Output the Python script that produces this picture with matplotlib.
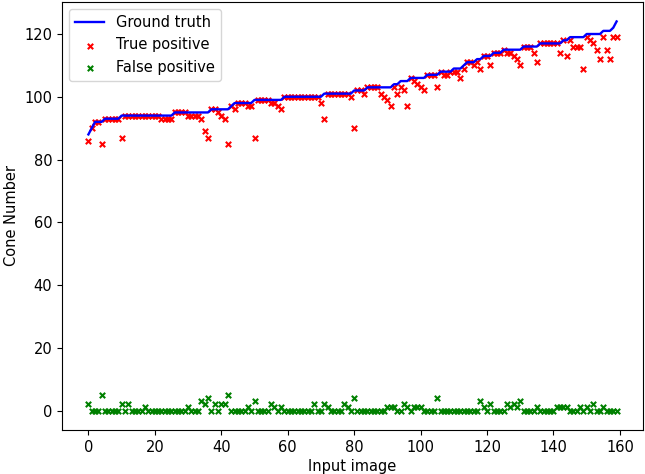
import numpy as np
import matplotlib
matplotlib.use("Agg")
import matplotlib.pyplot as plt

plt.rcParams.update({'font.size': 10.5})

# ground truth cone count per input image (sorted)
ground_truth = [88, 90, 92, 92, 92, 93, 93, 93, 93, 93,
                94, 94, 94, 94, 94, 94, 94, 94, 94, 94,
                94, 94, 94, 94, 94, 94, 95, 95, 95, 95,
                95, 95, 95, 95, 95, 95, 95, 96, 96, 96,
                96, 96, 96, 97, 98, 98, 98, 98, 98, 98,
                99, 99, 99, 99, 99, 99, 99, 99, 99, 100,
                100, 100, 100, 100, 100, 100, 100, 100, 100, 100,
                100, 101, 101, 101, 101, 101, 101, 101, 101, 101,
                102, 102, 102, 102, 103, 103, 103, 103, 103, 103,
                103, 103, 104, 104, 105, 105, 105, 106, 106, 106,
                106, 106, 107, 107, 107, 107, 108, 108, 108, 108,
                109, 109, 109, 110, 111, 111, 111, 112, 112, 113,
                113, 113, 114, 114, 114, 115, 115, 115, 115, 115,
                115, 116, 116, 116, 116, 116, 117, 117, 117, 117,
                117, 117, 117, 118, 118, 119, 119, 119, 119, 119,
                120, 120, 120, 120, 120, 121, 121, 121, 122, 124]

# detected cones that are correct
true_positive = [86, 90, 92, 92, 85, 93, 93, 93, 93, 93,
                 87, 94, 94, 94, 94, 94, 94, 94, 94, 94,
                 94, 94, 93, 93, 93, 93, 95, 95, 95, 95,
                 94, 94, 94, 94, 93, 89, 87, 96, 96, 95,
                 94, 93, 85, 97, 96, 98, 98, 98, 97, 97,
                 87, 99, 99, 99, 99, 98, 98, 97, 96, 100,
                 100, 100, 100, 100, 100, 100, 100, 100, 100, 100,
                 98, 93, 101, 101, 101, 101, 101, 101, 101, 100,
                 90, 102, 102, 101, 103, 103, 103, 103, 101, 100,
                 99, 97, 103, 101, 103, 102, 97, 106, 105, 104,
                 103, 102, 107, 107, 107, 103, 108, 107, 107, 108,
                 108, 108, 106, 109, 111, 111, 110, 111, 109, 113,
                 113, 110, 114, 114, 114, 115, 114, 114, 113, 112,
                 110, 116, 116, 116, 114, 111, 117, 117, 117, 117,
                 117, 117, 114, 118, 113, 118, 116, 116, 116, 109,
                 119, 118, 117, 115, 112, 119, 115, 112, 119, 119]

# wrong detections
false_positive = [2, 0, 0, 0, 5, 0, 0, 0, 0, 0,
                  2, 0, 2, 0, 0, 0, 0, 1, 0, 0,
                  0, 0, 0, 0, 0, 0, 0, 0, 0, 0,
                  1, 0, 0, 0, 3, 2, 4, 0, 2, 0,
                  2, 2, 5, 0, 0, 0, 0, 0, 1, 0,
                  3, 0, 0, 0, 0, 2, 1, 0, 1, 0,
                  0, 0, 0, 0, 0, 0, 0, 0, 2, 0,
                  0, 2, 1, 0, 0, 0, 0, 2, 1, 0,
                  4, 0, 0, 0, 0, 0, 0, 0, 0, 0,
                  1, 1, 1, 0, 0, 2, 1, 0, 1, 1,
                  1, 0, 0, 0, 0, 4, 0, 0, 0, 0,
                  0, 0, 0, 0, 0, 0, 0, 0, 3, 1,
                  0, 2, 0, 0, 0, 0, 2, 1, 2, 1,
                  3, 0, 0, 0, 0, 1, 0, 0, 0, 0,
                  0, 1, 1, 1, 1, 0, 0, 0, 1, 0,
                  1, 0, 2, 0, 0, 1, 0, 0, 0, 0]

images = np.arange(len(ground_truth))

fig, ax = plt.subplots(figsize=(6.45, 4.74), dpi=100)
ax.plot(images, ground_truth, "b", lw=1.7, label="Ground truth")
ax.scatter(images, true_positive, c="r", marker="x", s=15, label="True positive")
ax.scatter(images, false_positive, c="g", marker="x", s=15, label="False positive")
ax.set_xlabel("Input image", labelpad=3)
ax.set_ylabel("Cone Number")
ax.legend(loc="upper left")
fig.subplots_adjust(left=62/645, right=643/645, top=1 - 2/474, bottom=1 - 430/474)
plt.savefig("out.png")
plt.close()
